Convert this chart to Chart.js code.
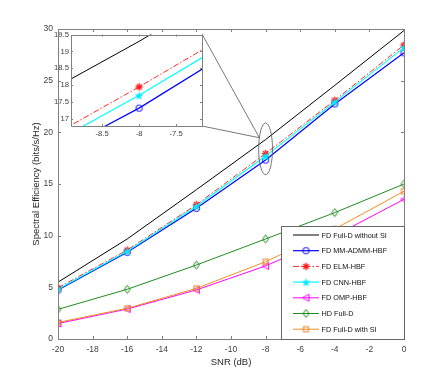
<!DOCTYPE html>
<html>
<head>
<meta charset="utf-8">
<script src="https://cdn.jsdelivr.net/npm/chart.js@4.4.0/dist/chart.umd.min.js"></script>
<style>
  body { margin:0; background:#fff; }
  #wrap { position:relative; width:447px; height:381px; }
  #myChart { position:absolute; left:0; top:0; }
  #inset { position:absolute; }
</style>
</head>
<body>
<div id="wrap">
  <canvas id="myChart" width="447" height="381"></canvas>
  <canvas id="inset" width="174" height="115"></canvas>
</div>
<script>
// data
var snr = [-20, -16, -12, -8, -4, 0]
var fullNoSI  = [5.5, 9.68, 14.45, 19.3, 24.55, 29.85]
var mmAdmm    = [4.74, 8.39, 12.65, 17.32, 22.75, 27.7]
var elm       = [4.95, 8.6, 13.0, 17.95, 23.1, 28.45]
var cnn       = [4.82, 8.5, 12.85, 17.7, 22.95, 28.2]
var omp       = [1.5, 2.9, 4.75, 7.07, 10.0, 13.52]
var hdFull    = [2.87, 4.81, 7.16, 9.68, 12.23, 15.0]
var fullWithSI= [1.6, 2.97, 4.9, 7.48, 10.65, 14.3]

var labels = ['FD Full-D without SI','FD MM-ADMM-HBF','FD ELM-HBF','FD CNN-HBF','FD OMP-HBF','HD Full-D','FD Full-D with SI']

var xTicks = [-20,-18,-16,-14,-12,-10,-8,-6,-4,-2,0]
var yTicks = [0,5,10,15,20,25,30]
var insetXTicks = [-8.5,-8,-7.5]
var insetYTicks = [17,17.5,18,18.5,19,19.5]

// zoom window (data units)
var zoomX = [-8.92, -7.15]
var zoomY = [16.79, 19.5]
var ellipseAt = [-8, 18.4]

// inset box position on the page
var INSET = {left:71, top:34, right:202, bottom:126}

var FONT = "'Liberation Sans', Arial, sans-serif"
var axisGray = '#808080'
var textGray = '#404040'

// little canvases for MATLAB style markers
function makeMarker(kind, color){
  var c = document.createElement('canvas')
  c.width = 11; c.height = 11
  var g = c.getContext('2d')
  var m = 5.5
  g.strokeStyle = color; g.fillStyle = color; g.lineWidth = 1
  g.beginPath()
  if (kind=='circle'){
    g.arc(m, m, 3.2, 0, Math.PI*2); g.stroke()
  } else if (kind=='star'){
    for (var i=0;i<4;i++){
      var a = i*Math.PI/4
      g.moveTo(m-3.7*Math.cos(a), m-3.7*Math.sin(a)); g.lineTo(m+3.7*Math.cos(a), m+3.7*Math.sin(a))
    }
    g.lineWidth = 1.3; g.stroke()
    g.beginPath(); g.arc(m, m, 1.9, 0, Math.PI*2); g.fill()
  } else if (kind=='penta'){
    for (var i=0;i<10;i++){
      var r = i%2==0 ? 4.6 : 1.9
      var a = -Math.PI/2 + i*Math.PI/5
      var px = m + r*Math.cos(a), py = m + 0.5 + r*Math.sin(a)
      if (i==0) g.moveTo(px,py); else g.lineTo(px,py)
    }
    g.closePath(); g.fill()
  } else if (kind=='triLeft'){
    g.moveTo(m-3.5, m); g.lineTo(m+3, m-3.5); g.lineTo(m+3, m+3.5); g.closePath(); g.stroke()
  } else if (kind=='diamond'){
    g.moveTo(m, m-4); g.lineTo(m+3, m); g.lineTo(m, m+4); g.lineTo(m-3, m); g.closePath(); g.stroke()
  } else if (kind=='square'){
    g.strokeRect(m-2.5, m-2.5, 5, 5)
  }
  return c
}

var styles = [
  {color:'#000000', width:1,   dash:[],        marker:null},
  {color:'#0000ff', width:1.2, dash:[],        marker:makeMarker('circle','#0000ff')},
  {color:'#ff2a2a', width:1,   dash:[6,2,1.5,2], marker:makeMarker('star','#ff1a1a')},
  {color:'#00ffff', width:1.2, dash:[],        marker:makeMarker('penta','#00e8ff')},
  {color:'#ff00ff', width:1,   dash:[],        marker:makeMarker('triLeft','#ff00ff')},
  {color:'#1f8c1f', width:1,   dash:[],        marker:makeMarker('diamond','#1f8c1f')},
  {color:'#ee8f22', width:1,   dash:[],        marker:makeMarker('square','#e8801a')}
]
var series = [fullNoSI, mmAdmm, elm, cnn, omp, hdFull, fullWithSI]

function buildDatasets(){
  var ds = []
  for (var i=0;i<series.length;i++){
    var s = styles[i]
    ds.push({
      label: labels[i],
      data: snr.map(function(x,k){ return {x:x, y:series[i][k]} }),
      borderColor: s.color,
      borderWidth: s.width,
      borderDash: s.dash,
      pointStyle: s.marker || 'circle',
      pointRadius: s.marker ? 5 : 0,
      pointHoverRadius: 0,
      tension: 0,
      order: series.length - i
    })
  }
  return ds
}

// box with inward ticks on all four sides
function drawBox(chart, tickLen){
  var ctx = chart.ctx, a = chart.chartArea
  var xs = chart.scales.x, ys = chart.scales.y
  ctx.save()
  ctx.strokeStyle = axisGray
  ctx.lineWidth = 1
  ctx.beginPath()
  ctx.rect(Math.round(a.left)+0.5, Math.round(a.top)+0.5, Math.round(a.right-a.left), Math.round(a.bottom-a.top))
  xs.ticks.forEach(function(t){
    var p = Math.round(xs.getPixelForValue(t.value))+0.5
    ctx.moveTo(p, a.bottom); ctx.lineTo(p, a.bottom-tickLen)
    ctx.moveTo(p, a.top); ctx.lineTo(p, a.top+tickLen)
  })
  ys.ticks.forEach(function(t){
    var p = Math.round(ys.getPixelForValue(t.value))+0.5
    ctx.moveTo(a.left, p); ctx.lineTo(a.left+tickLen, p)
    ctx.moveTo(a.right, p); ctx.lineTo(a.right-tickLen, p)
  })
  ctx.stroke()
  ctx.restore()
}

var mainPlugin = {
  id:'mainDecor',
  afterDatasetsDraw: function(chart){
    var ctx = chart.ctx, a = chart.chartArea
    var xs = chart.scales.x, ys = chart.scales.y
    // ellipse around the zoomed points + lines to the inset
    var cx = xs.getPixelForValue(ellipseAt[0]), cy = ys.getPixelForValue(ellipseAt[1])
    var rx = Math.abs(xs.getPixelForValue(ellipseAt[0]+0.4)-cx)
    var ry = Math.abs(ys.getPixelForValue(ellipseAt[1]+2.5)-cy)
    ctx.save()
    ctx.strokeStyle = '#555'
    ctx.lineWidth = 0.8
    ctx.beginPath()
    ctx.ellipse(cx, cy, rx, ry, 0, 0, Math.PI*2)
    ctx.stroke()
    var jx = cx - rx*Math.sqrt(1-0.43*0.43), jy = cy - ry*0.43
    ctx.beginPath()
    ctx.moveTo(INSET.right, INSET.top); ctx.lineTo(jx, jy)
    ctx.moveTo(INSET.right, INSET.bottom); ctx.lineTo(jx, jy)
    ctx.stroke()
    ctx.restore()

    drawBox(chart, 3)

    // legend, lower right inside the axes
    var w = 123, h = 113
    var L = Math.round(a.right) - w, T = Math.round(a.bottom) - h
    ctx.save()
    ctx.fillStyle = '#fff'
    ctx.fillRect(L, T, w, h)
    ctx.strokeStyle = '#666'
    ctx.lineWidth = 1
    ctx.strokeRect(L+0.5, T+0.5, w, h)
    ctx.font = '7.3px ' + FONT
    ctx.textBaseline = 'middle'
    chart.data.datasets.forEach(function(d, i){
      var y = T + 9 + i*15.7
      ctx.strokeStyle = d.borderColor
      ctx.lineWidth = d.borderWidth
      ctx.setLineDash(d.borderDash)
      ctx.beginPath(); ctx.moveTo(L+12, y); ctx.lineTo(L+38, y); ctx.stroke()
      ctx.setLineDash([])
      if (styles[i].marker) ctx.drawImage(styles[i].marker, L+25-5.5, y-5.5)
      ctx.fillStyle = '#111'
      ctx.fillText(d.label, L+40.5, y+0.5)
    })
    ctx.restore()
  }
}

new Chart(document.getElementById('myChart').getContext('2d'), {
  type:'line',
  data:{ datasets: buildDatasets() },
  plugins:[mainPlugin],
  options:{
    responsive:false,
    animation:false,
    devicePixelRatio:1,
    layout:{ padding:{top:29, right:43, left:0, bottom:0} },
    plugins:{ legend:{display:false}, tooltip:{enabled:false} },
    scales:{
      x:{
        type:'linear', min:-20, max:0,
        afterFit:function(s){ s.height = 42 },
        afterBuildTicks:function(s){ s.ticks = xTicks.map(function(v){ return {value:v} }) },
        grid:{display:false, drawTicks:false},
        border:{display:false},
        ticks:{ color:textGray, font:{family:FONT, size:8.5}, padding:6, maxRotation:0, autoSkip:false,
          callback:function(v){ return String(v) } },
        title:{ display:true, text:'SNR (dB)', color:'#262626', font:{family:FONT, size:9.5}, padding:{top:0, bottom:13} }
      },
      y:{
        min:0, max:30,
        afterFit:function(s){ s.width = 58 },
        afterBuildTicks:function(s){ s.ticks = yTicks.map(function(v){ return {value:v} }) },
        grid:{display:false, drawTicks:false},
        border:{display:false},
        ticks:{ color:textGray, font:{family:FONT, size:8.5}, padding:5, callback:function(v){ return String(v) } },
        title:{ display:true, text:'Spectral Efficiency (bits/s/Hz)', color:'#262626', font:{family:FONT, size:9.5}, padding:{top:31, bottom:0} }
      }
    }
  }
})

// zoomed inset
var insetCanvas = document.getElementById('inset')
var insetW = 174, insetH = 115
var insetLeftPad = 35, insetTopPad = 6
insetCanvas.style.left = (INSET.left - insetLeftPad) + 'px'
insetCanvas.style.top = (INSET.top - insetTopPad) + 'px'

var insetPlugin = {
  id:'insetDecor',
  beforeDatasetsDraw:function(chart){
    var a = chart.chartArea
    chart.ctx.save()
    chart.ctx.fillStyle = '#fff'
    chart.ctx.fillRect(a.left, a.top, a.right-a.left, a.bottom-a.top)
    chart.ctx.restore()
  },
  afterDatasetsDraw:function(chart){ drawBox(chart, 2) }
}

new Chart(insetCanvas.getContext('2d'), {
  type:'line',
  data:{ datasets: buildDatasets() },
  plugins:[insetPlugin],
  options:{
    responsive:false,
    animation:false,
    devicePixelRatio:1,
    layout:{ padding:{top:insetTopPad, right:insetW - insetLeftPad - (INSET.right-INSET.left), left:0, bottom:0} },
    plugins:{ legend:{display:false}, tooltip:{enabled:false} },
    scales:{
      x:{
        type:'linear', min:zoomX[0], max:zoomX[1],
        afterFit:function(s){ s.height = insetH - insetTopPad - (INSET.bottom-INSET.top) },
        afterBuildTicks:function(s){ s.ticks = insetXTicks.map(function(v){ return {value:v} }) },
        grid:{display:false, drawTicks:false},
        border:{display:false},
        ticks:{ color:textGray, font:{family:FONT, size:7.7}, padding:3, maxRotation:0, autoSkip:false,
          callback:function(v){ return String(v) } }
      },
      y:{
        min:zoomY[0], max:zoomY[1],
        afterFit:function(s){ s.width = insetLeftPad },
        afterBuildTicks:function(s){ s.ticks = insetYTicks.map(function(v){ return {value:v} }) },
        grid:{display:false, drawTicks:false},
        border:{display:false},
        ticks:{ color:textGray, font:{family:FONT, size:7.7}, padding:2, callback:function(v){ return String(v) } }
      }
    }
  }
})
</script>
</body>
</html>
